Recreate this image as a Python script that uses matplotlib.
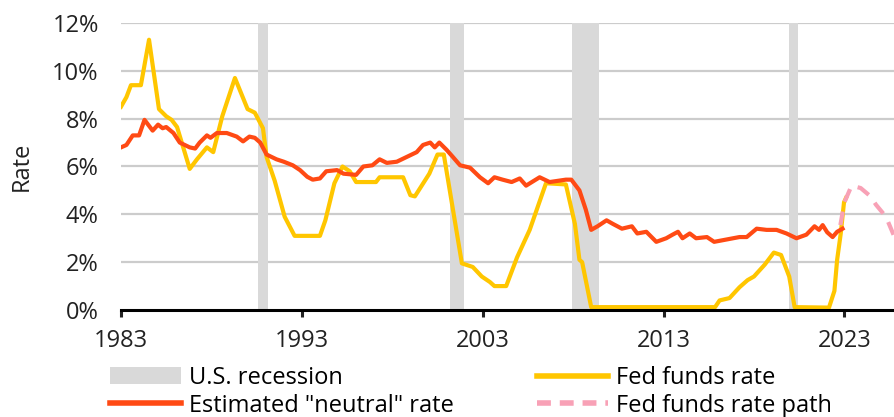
import matplotlib
matplotlib.use("Agg")
import matplotlib.pyplot as plt
from matplotlib.patches import Patch
from matplotlib.lines import Line2D

plt.rcParams['font.family'] = ['Open Sans', 'DejaVu Sans']

# fed funds rate (yellow)
fed_years = [1983.0, 1983.3, 1983.55, 1984.1, 1984.55, 1985.1, 1985.5, 1985.8, 1986.1, 1986.8,
             1987.2, 1987.75, 1988.1, 1988.6, 1989.3, 1990.0, 1990.4, 1990.85, 1991.05, 1991.5,
             1992.05, 1992.6, 1994.0, 1994.3, 1994.8, 1995.25, 1995.65, 1996.0, 1997.1, 1997.3,
             1998.6, 1999.0, 1999.25, 2000.05, 2000.5, 2000.85, 2001.85, 2002.45, 2002.95, 2003.4,
             2003.65, 2004.3, 2004.9, 2005.6, 2006.5, 2007.6, 2008.1, 2008.35, 2008.5, 2009.0,
             2015.85, 2016.1, 2016.65, 2017.2, 2017.65, 2018.0, 2018.6, 2019.1, 2019.5, 2019.95,
             2020.25, 2022.15, 2022.45, 2022.6, 2022.8, 2022.98, 2023.1]
fed_rate = [8.5, 8.9, 9.4, 9.4, 11.3, 8.4, 8.1, 7.95, 7.65, 5.9,
            6.3, 6.8, 6.6, 8.1, 9.7, 8.4, 8.25, 7.6, 6.4, 5.4,
            3.9, 3.1, 3.1, 3.75, 5.3, 6.0, 5.8, 5.35, 5.35, 5.55,
            5.55, 4.8, 4.75, 5.7, 6.5, 6.5, 1.95, 1.8, 1.4, 1.17,
            1.0, 1.0, 2.2, 3.35, 5.3, 5.25, 3.6, 2.1, 2.0, 0.12,
            0.12, 0.4, 0.5, 0.95, 1.25, 1.4, 1.9, 2.4, 2.3, 1.4,
            0.12, 0.1, 0.8, 2.1, 3.2, 4.5, 4.7]

# estimated neutral rate (red)
neutral_years = [1983.0, 1983.3, 1983.65, 1984.0, 1984.3, 1984.75, 1985.05, 1985.3, 1985.5, 1985.9,
                 1986.25, 1986.8, 1987.1, 1987.35, 1987.75, 1987.95, 1988.3, 1988.85, 1989.4, 1989.75,
                 1990.1, 1990.4, 1990.7, 1991.05, 1991.6, 1992.0, 1992.5, 1992.9, 1993.3, 1993.6,
                 1994.0, 1994.35, 1994.95, 1995.3, 1996.0, 1996.4, 1996.9, 1997.3, 1997.7, 1998.25,
                 1998.8, 1999.35, 1999.7, 2000.1, 2000.35, 2000.6, 2001.0, 2001.35, 2001.75, 2002.3,
                 2002.85, 2003.3, 2003.65, 2004.1, 2004.6, 2005.05, 2005.4, 2006.15, 2006.7, 2007.6,
                 2007.9, 2008.35, 2008.7, 2009.0, 2009.35, 2009.85, 2010.2, 2010.7, 2011.25, 2011.55,
                 2012.05, 2012.6, 2013.15, 2013.5, 2013.8, 2014.05, 2014.45, 2014.8, 2015.4, 2015.8,
                 2016.5, 2017.2, 2017.6, 2018.15, 2018.7, 2019.25, 2019.8, 2020.35, 2020.9, 2021.35,
                 2021.6, 2021.8, 2022.05, 2022.35, 2022.6, 2022.9]
neutral_rate = [6.8, 6.9, 7.3, 7.3, 7.95, 7.5, 7.75, 7.6, 7.65, 7.4,
                7.0, 6.8, 6.75, 7.0, 7.3, 7.2, 7.4, 7.4, 7.25, 7.05,
                7.25, 7.2, 7.0, 6.5, 6.3, 6.2, 6.05, 5.85, 5.57, 5.45,
                5.5, 5.8, 5.85, 5.7, 5.65, 6.0, 6.05, 6.3, 6.15, 6.2,
                6.4, 6.6, 6.9, 7.0, 6.8, 7.0, 6.7, 6.4, 6.05, 5.95,
                5.55, 5.3, 5.55, 5.45, 5.35, 5.5, 5.2, 5.55, 5.35, 5.45,
                5.45, 5.0, 4.2, 3.35, 3.5, 3.75, 3.6, 3.4, 3.5, 3.2,
                3.27, 2.85, 3.0, 3.15, 3.27, 3.0, 3.2, 3.0, 3.05, 2.85,
                2.95, 3.05, 3.05, 3.4, 3.35, 3.35, 3.2, 3.0, 3.15, 3.5,
                3.35, 3.55, 3.25, 3.05, 3.27, 3.4]

# projected path (pink dashed)
path_years = [2022.78, 2023.0, 2023.4, 2023.9, 2024.45, 2024.75, 2025.3, 2025.8]
path_rate = [3.55, 4.5, 5.2, 5.1, 4.75, 4.4, 3.9, 3.0]

rec_start = [1990.6, 2001.2, 2007.95, 2019.95]
rec_end = [1991.15, 2001.95, 2009.45, 2020.45]

xticks = [1983, 1993, 2003, 2013, 2023]
yticks = [0, 2, 4, 6, 8, 10, 12]

yellow = '#FFC600'
red = '#FF4A14'
pink = '#F8A1B6'
gray = '#D9D9D9'
txt = '#222222'
fs = 17

fig = plt.figure(figsize=(8.95, 4.17), dpi=100)
ax = fig.add_axes([121 / 895, 107 / 417, 1 - 121 / 895, 287 / 417])

for y in yticks[1:]:
    ax.axhline(y, color='#CCCCCC', lw=1.6, zorder=1)
for s, e in zip(rec_start, rec_end):
    ax.axvspan(s, e, color=gray, lw=0, zorder=2)

ax.plot(fed_years, fed_rate, color=yellow, lw=3, zorder=4, solid_joinstyle='round')
ax.plot(neutral_years, neutral_rate, color=red, lw=3, zorder=5, solid_joinstyle='round')
ax.plot(path_years, path_rate, color=pink, lw=3, dashes=(3.3, 2.4), zorder=6)

ax.set_xlim(1983, 2025.8)
ax.set_ylim(0, 12)
ax.set_yticks(yticks)
ax.set_yticklabels([f'{v}%' for v in yticks])
ax.set_xticks(xticks)
for side in ['top', 'right', 'left']:
    ax.spines[side].set_visible(False)
ax.spines['bottom'].set_linewidth(2.2)
ax.spines['bottom'].set_zorder(7)
ax.tick_params(axis='y', length=0, pad=16, labelsize=fs, colors=txt)
ax.tick_params(axis='x', length=5, width=2.2, pad=9, labelsize=fs, colors=txt)
ax.set_ylabel('Rate', fontsize=fs, color=txt, labelpad=13)

h1 = [Patch(facecolor=gray, edgecolor='none'),
      Line2D([], [], color=red, lw=4)]
h2 = [Line2D([], [], color=yellow, lw=4),
      Line2D([], [], color=pink, lw=4, dashes=(2.5, 1.6))]
leg_kw = dict(loc='upper left', frameon=False, fontsize=fs, handlelength=3.0,
              handletextpad=0.33, labelspacing=0.15, borderpad=0, borderaxespad=0)
fig.legend(h1, ['U.S. recession', 'Estimated "neutral" rate'],
           bbox_to_anchor=(110 / 895, 1 - 366 / 417), **leg_kw)
fig.legend(h2, ['Fed funds rate', 'Fed funds rate path'],
           bbox_to_anchor=(537 / 895, 1 - 366 / 417), **leg_kw)

fig.savefig('out.png', dpi=100)
